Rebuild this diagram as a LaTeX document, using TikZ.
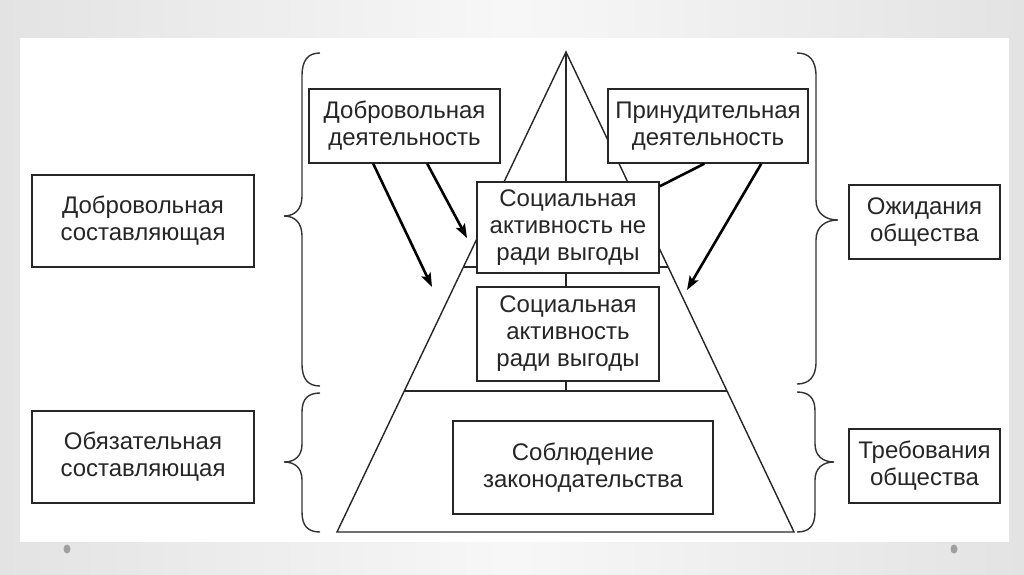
\documentclass[tikz,border=0pt]{standalone}
\usepackage{fontspec}
\setmainfont{Liberation Sans}
\usetikzlibrary{arrows.meta,calc}
\begin{document}
\begin{tikzpicture}[x=1pt,y=-1pt,
  box/.style={draw=black!85, line width=1.5pt, fill=white, align=center, inner sep=0pt, font=\fontsize{24}{27}\selectfont, text=black!85},
  pyr/.style={draw=black!85, line width=1.4pt},
  brc/.style={draw=black!80, line width=1.4pt},
  arr/.style={draw=black, line width=2.6pt, -{Stealth[length=14pt,width=10pt,inset=3pt]}},
  dot/.style={fill=gray!75},
]
\useasboundingbox (0,0) rectangle (1024,574);
\shade[left color=gray!22, right color=gray!22, middle color=gray!6] (0,0) rectangle (1024,574);
\fill[white] (20,38) rectangle (1009,542);
\fill[dot] (67,549) ellipse [x radius=3.5pt, y radius=4.5pt];
\fill[dot] (954,549) ellipse [x radius=3.5pt, y radius=4.5pt];

% pyramid
\coordinate (apex) at (566,52);
\coordinate (bl) at (337,532);
\coordinate (br) at (794,532);
\draw[pyr] (apex) -- (bl) -- (br) -- cycle;
\coordinate (l1) at ($(apex)!0.448!(bl)$);
\coordinate (r1) at ($(apex)!0.448!(br)$);
\coordinate (l2) at ($(apex)!0.706!(bl)$);
\coordinate (r2) at ($(apex)!0.706!(br)$);
\draw[pyr] (l1) -- (r1);
\draw[pyr] (l2) -- (r2);
\draw[pyr] (apex) -- (apex |- l2);

% braces
\draw[brc] (320,53) .. controls (308,53) and (302,60) .. (302,76) -- (302,196) .. controls (302,209) and (295,216) .. (284,216) .. controls (295,216) and (302,223) .. (302,236) -- (302,364) .. controls (302,379) and (308,386) .. (320,386);
\draw[brc] (320,393) .. controls (308,393) and (302,399) .. (302,412) -- (302,444) .. controls (302,456) and (295,462) .. (284,462) .. controls (295,462) and (302,468) .. (302,480) -- (302,512) .. controls (302,526) and (308,532) .. (320,532);
\draw[brc] (797,53) .. controls (809,53) and (816,60) .. (816,76) -- (816,200) .. controls (816,213) and (825,220) .. (838,220) .. controls (825,220) and (816,227) .. (816,240) -- (816,362) .. controls (816,377) and (809,384) .. (797,384);
\draw[brc] (797,392) .. controls (809,392) and (815,398) .. (815,411) -- (815,444) .. controls (815,456) and (823,462) .. (834,462) .. controls (823,462) and (815,468) .. (815,480) -- (815,512) .. controls (815,526) and (809,532) .. (797,532);

% boxes
\node[box, minimum width=191pt, minimum height=74pt] (vd) at (404.5,126) {Добровольная\\деятельность};
\node[box, minimum width=200pt, minimum height=74pt] (pd) at (708,126) {Принудительная\\деятельность};
\node[box, minimum width=182pt, minimum height=91pt] (sn) at (568,227.5) {Социальная\\активность не\\ради выгоды};
\node[box, minimum width=182pt, minimum height=94pt] (sr) at (568,334) {Социальная\\активность\\ради выгоды};
\node[box, minimum width=260pt, minimum height=93pt] (zk) at (583,467.5) {Соблюдение\\законодательства};
\node[box, minimum width=222pt, minimum height=92pt] (ds) at (143,221) {Добровольная\\составляющая};
\node[box, minimum width=222pt, minimum height=92pt] (os) at (143,457) {Обязательная\\составляющая};
\node[box, minimum width=151pt, minimum height=74pt] (oz) at (924.5,222) {Ожидания\\общества};
\node[box, minimum width=151pt, minimum height=74pt] (tr) at (924.5,466) {Требования\\общества};

% arrows
\coordinate (a1) at (432,287);
\coordinate (a2) at (467,238);
\coordinate (a3) at (687,290);
\draw[arr] ([xshift=65pt]vd.south west) -- (a1);
\draw[arr] ([xshift=119pt]vd.south west) -- (a2);
\draw[arr] ([xshift=154pt]pd.south west) -- (a3);
\draw[draw=black, line width=2.6pt] ([xshift=97pt]pd.south west) -- ([yshift=-5pt]sn.north east);
\end{tikzpicture}
\end{document}
